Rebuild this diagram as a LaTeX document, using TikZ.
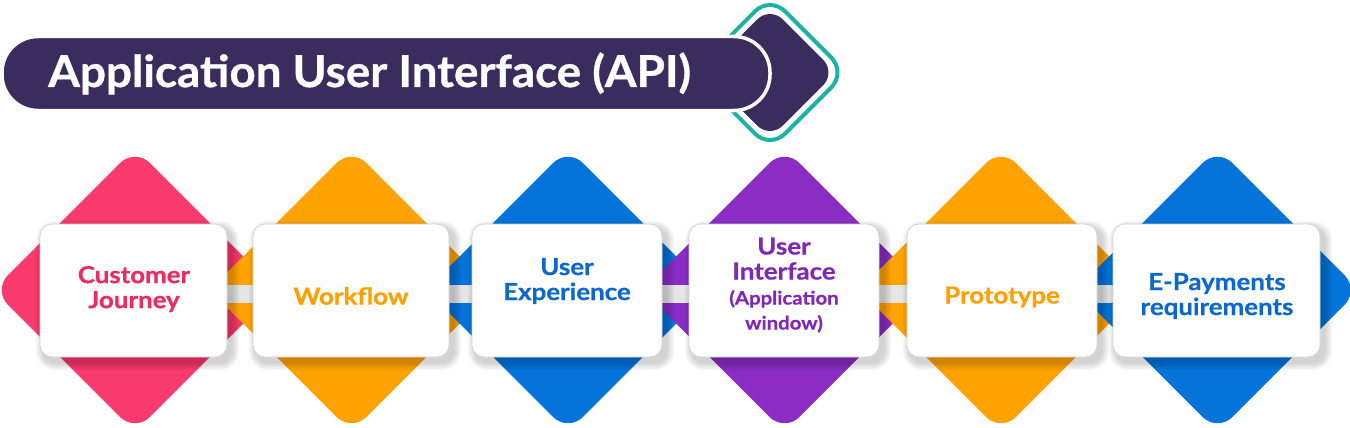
\documentclass[tikz,border=0pt]{standalone}
\usepackage{fontspec}
\setmainfont{Lato}
\newfontfamily\cardfont{Lato}[FakeStretch=1.1, FakeBold=0.6]
\newfontfamily\titlefont{Lato}[FakeStretch=1.04, FakeBold=0.8]
\usetikzlibrary{shapes.geometric}
\pgfdeclarelayer{bg}
\pgfdeclarelayer{mid}
\pgfsetlayers{bg,mid,main}
\definecolor{cpink}{HTML}{F93A6C}
\definecolor{tpink}{HTML}{EE2A60}
\definecolor{corange}{HTML}{FFA303}
\definecolor{torange}{HTML}{FFA000}
\definecolor{cblue}{HTML}{0474DA}
\definecolor{tblue}{HTML}{0A68CE}
\definecolor{cpurple}{HTML}{8B2DC5}
\definecolor{tpurple}{HTML}{8026B8}
\definecolor{cdark}{HTML}{3A2D5E}
\definecolor{cteal}{HTML}{1DB3A3}
\newcommand\smalltxt{\fontsize{18.5}{24}\selectfont}
\begin{document}
\begin{tikzpicture}[x=1pt,y=-1pt,
  dia/.style={diamond, aspect=1, minimum width=284pt, minimum height=284pt, inner sep=0pt, rounded corners=21pt},
  card/.style={rectangle, rounded corners=12pt, draw=black!17, line width=0.8pt, fill=white, minimum height=133pt, inner sep=0pt},
  txt/.style={font=\cardfont\bfseries\fontsize{23.5}{25}\selectfont, align=center, inner sep=0pt},
]
\useasboundingbox (0,0) rectangle (1350,428);

% ---- title ----
\node[diamond, aspect=1, minimum width=154pt, minimum height=154pt, inner sep=0pt, rounded corners=21pt, draw=cteal, line width=4pt, fill=white] (tl) at (770,72.5) {};
\node[diamond, aspect=1, minimum width=132pt, minimum height=132pt, inner sep=0pt, rounded corners=18pt, fill=cdark] (ar) at (770,72.5) {};
\node[rectangle, rounded corners=36pt, fill=cdark, draw=white, line width=3.5pt, minimum width=768pt, minimum height=74pt, inner sep=0pt] (bar) at (386,73.5) {};
\node[font=\titlefont\bfseries\fontsize{44}{50}\selectfont, text=white, anchor=base west, inner sep=0pt] (title) at (48,87) {Application User Interface (API)};

% ---- diamonds ----
\begin{pgfonlayer}{bg}
\node[dia, fill=cpink]   (d1) at (135,290) {};
\node[dia, fill=corange] (d2) at (351.5,290) {};
\node[dia, fill=cblue]   (d3) at (568,290) {};
\node[dia, fill=cpurple] (d4) at (784.5,290) {};
\node[dia, fill=corange] (d5) at (1001,290) {};
\node[dia, fill=cblue]   (d6) at (1217.5,290) {};
\end{pgfonlayer}

% ---- cards ----
\node[card, minimum width=187pt] (c1) at (133.5,290.5) {};
\node[card, minimum width=196pt] (c2) at (351,290.5) {};
\node[card, minimum width=190pt] (c3) at (567,290.5) {};
\node[card, minimum width=190pt] (c4) at (784,290.5) {};
\node[card, minimum width=190pt] (c5) at (1002,290.5) {};
\node[card, minimum width=207pt] (c6) at (1216.5,290.5) {};

% ---- strip and shadows ----
\coordinate (sy1) at (0,285);
\coordinate (sy2) at (0,302);
\begin{pgfonlayer}{mid}
\shade[top color=black!10, middle color=white, bottom color=black!10] (c1.east |- sy1) rectangle (c6.west |- sy2);
\foreach \c in {c1,c2,c3,c4,c5,c6}{
  \foreach \i in {1,...,8}{
    \pgfmathsetmacro\rr{12+\i}
    \fill[black, opacity=0.022, rounded corners=\rr pt] ([shift={(4-\i,5-\i)}]\c.north west) rectangle ([shift={(4+\i,5+\i)}]\c.south east);
  }
}
\end{pgfonlayer}

% ---- texts ----
\node[txt, text=tpink]   (t1) at (134,289) {Customer\\Journey};
\node[txt, text=torange] (t2) at (351,296) {Workflow};
\node[txt, text=tblue]   (t3) at (567,281) {User\\Experience};
\node[txt, text=tpurple] (t4) at (784,285) {User\\Interface\\{\smalltxt (Application}\\{\smalltxt window)}};
\node[txt, text=torange] (t5) at (1002,297) {Prototype};
\node[txt, text=tblue]   (t6) at (1217,296) {E-Payments\\requirements};
\end{tikzpicture}
\end{document}
